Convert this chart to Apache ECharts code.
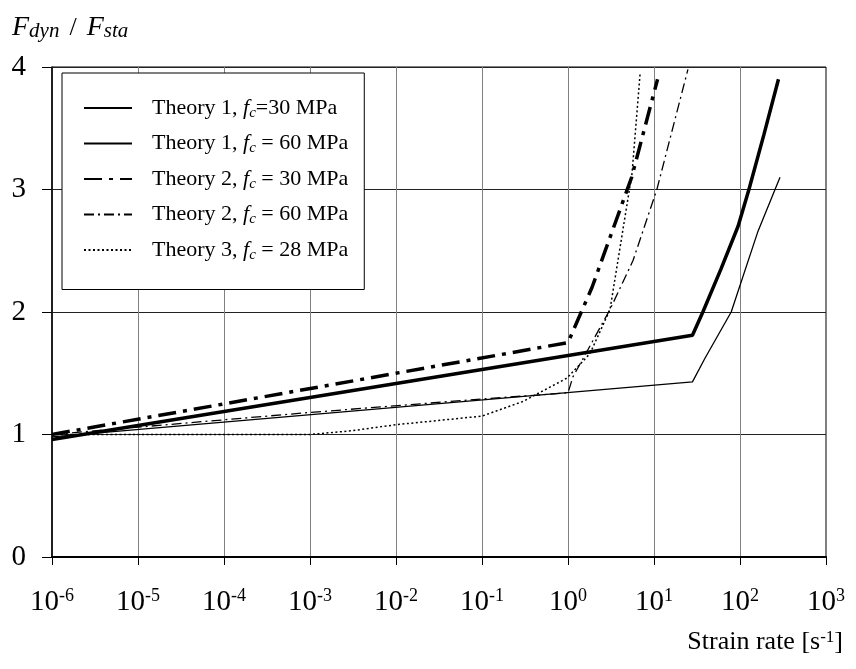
<!DOCTYPE html>
<html>
<head>
<meta charset="utf-8">
<script src="https://cdn.jsdelivr.net/npm/echarts@6/dist/echarts.min.js"></script>
<style>
  html, body { margin: 0; padding: 0; background: #fff; }
  #chart { width: 856px; height: 669px; }
</style>
</head>
<body>
<div id="chart"></div>
<script>
// series names and values: [strain rate, Fdyn/Fsta]
const seriesNames = ['Theory 1, fc=30 MPa', 'Theory 1, fc = 60 MPa', 'Theory 2, fc = 30 MPa', 'Theory 2, fc = 60 MPa', 'Theory 3, fc = 28 MPa']
const theory1fc30 = [[1e-6, 0.96], [28, 1.81], [37, 2.0], [60, 2.35], [95, 2.7], [127, 3.0], [190, 3.45], [280, 3.9]]
const theory1fc60 = [[1e-6, 0.98], [28, 1.43], [39, 1.62], [79, 2.0], [162, 2.66], [292, 3.1]]
const theory2fc30 = [[1e-6, 1.0], [1, 1.75], [1.9, 2.2], [5.5, 3.1], [11, 3.9]]
const theory2fc60 = [[1e-6, 1.0], [1e-3, 1.18], [0.1, 1.29], [1, 1.34], [1.14, 1.47], [3.08, 2.02], [5.7, 2.42], [10.8, 3.0], [24.8, 3.98]]
const theory3fc28 = [[1e-6, 1.0], [1e-3, 1.0], [3e-3, 1.03], [1e-2, 1.08], [0.1, 1.15], [0.3, 1.27], [0.97, 1.46], [1.8, 1.66], [3.08, 2.02], [5.55, 3.13], [6.9, 3.95]]
const xTicks = [1e-6, 1e-5, 1e-4, 1e-3, 1e-2, 1e-1, 1e0, 1e1, 1e2, 1e3]
const yTicks = [0, 1, 2, 3, 4]

const serif = 'Liberation Serif'
const legendText = {
  'Theory 1, fc=30 MPa': 'Theory 1, {i|f}{sub|c}=30 MPa',
  'Theory 1, fc = 60 MPa': 'Theory 1, {i|f}{sub|c} = 60 MPa',
  'Theory 2, fc = 30 MPa': 'Theory 2, {i|f}{sub|c} = 30 MPa',
  'Theory 2, fc = 60 MPa': 'Theory 2, {i|f}{sub|c} = 60 MPa',
  'Theory 3, fc = 28 MPa': 'Theory 3, {i|f}{sub|c} = 28 MPa'
}
const styles = [
  { width: 3.5, type: 'solid' },
  { width: 1.3, type: 'solid' },
  { width: 3.5, type: [18, 7, 4, 7] },
  { width: 1.3, type: [10, 4, 2, 4] },
  { width: 1.5, type: [2, 2.5] }
]
const datasets = [theory1fc30, theory1fc60, theory2fc30, theory2fc60, theory3fc28]

const myChart = echarts.init(document.getElementById('chart'))

const option = {
  animation: false,
  grid: {
    left: 52,
    right: 30,
    top: 67,
    bottom: 112,
    show: true,
    borderColor: '#000',
    borderWidth: 1
  },
  legend: {
    orient: 'vertical',
    left: 62,
    top: 73,
    padding: [23, 16, 27, 21],
    backgroundColor: '#fff',
    borderColor: '#000',
    borderWidth: 1,
    itemWidth: 48,
    itemHeight: 14,
    itemGap: 11,
    itemStyle: { opacity: 0 },
    data: seriesNames,
    formatter: name => legendText[name],
    textStyle: {
      fontFamily: serif,
      fontSize: 22,
      color: '#000',
      lineHeight: 24,
      padding: [0, 0, 0, 15],
      rich: {
        i: { fontFamily: serif, fontSize: 22, fontStyle: 'italic', color: '#000' },
        sub: { fontFamily: serif, fontSize: 15, fontStyle: 'italic', color: '#000', padding: [10, 0, 0, 0] }
      }
    }
  },
  xAxis: {
    type: 'log',
    logBase: 10,
    min: xTicks[0],
    max: xTicks[xTicks.length - 1],
    splitNumber: 9,
    axisLine: { lineStyle: { color: '#000', width: 2 } },
    axisTick: { show: true, length: 8, lineStyle: { color: '#000', width: 1 } },
    splitLine: { show: true, lineStyle: { color: '#808080', width: 1 } },
    axisLabel: {
      margin: 30,
      color: '#000',
      fontFamily: serif,
      fontSize: 29,
      formatter: v => '10{sup|' + Math.round(Math.log10(v)) + '}',
      rich: {
        sup: { fontFamily: serif, fontSize: 18, color: '#000', padding: [0, 0, 13, 0] }
      }
    }
  },
  yAxis: {
    type: 'value',
    min: yTicks[0],
    max: yTicks[yTicks.length - 1],
    interval: 1,
    axisLine: { show: true, lineStyle: { color: '#000', width: 1.5 } },
    axisTick: { show: true, length: 10, lineStyle: { color: '#000', width: 1 } },
    splitLine: { show: true, lineStyle: { color: '#222', width: 1 } },
    axisLabel: {
      margin: 26,
      color: '#000',
      fontFamily: serif,
      fontSize: 29
    }
  },
  graphic: [
    {
      type: 'text',
      left: 12,
      top: 14,
      style: {
        text: '{i|F}{sub|dyn}{n|/}{i|F}{sub|sta}',
        rich: {
          i: { fontFamily: serif, fontSize: 28, fontStyle: 'italic', fill: '#000' },
          n: { fontFamily: serif, fontSize: 26, fill: '#000', padding: [0, 10, 0, 10] },
          sub: { fontFamily: serif, fontSize: 21, fontStyle: 'italic', fill: '#000', padding: [6, 0, 0, 0] }
        }
      }
    },
    {
      type: 'text',
      right: 13,
      top: 629,
      style: {
        text: 'Strain rate [s{sup|-1}]',
        fontFamily: serif,
        fontSize: 26,
        fill: '#000',
        rich: {
          sup: { fontFamily: serif, fontSize: 17, fill: '#000', padding: [0, 0, 10, 0] }
        }
      }
    }
  ],
  series: seriesNames.map((name, i) => ({
    name: name,
    type: 'line',
    data: datasets[i],
    symbol: 'none',
    smooth: false,
    color: '#000',
    lineStyle: { color: '#000', width: styles[i].width, type: styles[i].type }
  }))
}

myChart.setOption(option)
</script>
</body>
</html>
